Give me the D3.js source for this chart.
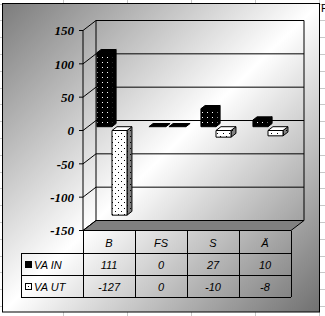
<!DOCTYPE html>
<html>
<head>
<meta charset="utf-8">
<script src="https://cdn.jsdelivr.net/npm/d3@7"></script>
<style>
  html, body { margin: 0; padding: 0; background: #fff; }
  svg { display: block; }
</style>
</head>
<body>
<script>
// Chart data
var categories = ["B", "FS", "S", "Ä"];
var seriesNames = ["VA IN", "VA UT"];
var vaIn = [111, 0, 27, 10];
var vaUt = [-127, 0, -10, -8];
var yTicks = [-150, -100, -50, 0, 50, 100, 150];

var width = 325,
    height = 316;

var svg = d3.select("body").append("svg")
    .attr("width", width)
    .attr("height", height);

var defs = svg.append("defs");

// background gradient of the chart area
var grad = defs.append("linearGradient")
    .attr("id", "bg")
    .attr("x1", 0).attr("y1", 0).attr("x2", 1).attr("y2", 1);
grad.append("stop").attr("offset", 0).attr("stop-color", "#7c7c7c");
grad.append("stop").attr("offset", 0.5).attr("stop-color", "#ffffff");
grad.append("stop").attr("offset", 1).attr("stop-color", "#707070");

// dotted fills
function dotPattern(id, bg, fg, size, dots) {
  var p = defs.append("pattern")
      .attr("id", id)
      .attr("patternUnits", "userSpaceOnUse")
      .attr("width", size).attr("height", size);
  p.append("rect").attr("width", size).attr("height", size).attr("fill", bg);
  dots.forEach(function(d) {
    p.append("rect").attr("x", d[0]).attr("y", d[1])
      .attr("width", 1).attr("height", 1).attr("fill", fg);
  });
}
dotPattern("dotsIn", "#000", "#fff", 5, [[2, 2]]);
dotPattern("dotsInSide", "#000", "#808080", 5, [[2, 2]]);
dotPattern("dotsUt", "#fff", "#000", 6, [[1, 1], [4, 4]]);
dotPattern("dotsUtSide", "#808080", "#000", 6, [[1, 1], [4, 4]]);

// spreadsheet grid behind the chart
var sheet = svg.append("g").attr("class", "sheet");
d3.range(63.5, width, 64).forEach(function(x) {
  sheet.append("line").attr("x1", x).attr("x2", x).attr("y1", 0).attr("y2", height)
    .attr("stroke", "#c8c8c8");
});
d3.range(3.5, height, 16.8).forEach(function(y) {
  sheet.append("line").attr("x1", 0).attr("x2", width).attr("y1", Math.round(y) + 0.5).attr("y2", Math.round(y) + 0.5)
    .attr("stroke", "#c8c8c8");
});
sheet.append("text").attr("x", 321).attr("y", 12)
  .style("font", "11px 'Liberation Sans', Arial, sans-serif")
  .text("F");

// chart area
svg.append("rect")
    .attr("x", 2.5).attr("y", 3.5)
    .attr("width", 317).attr("height", 308.5)
    .attr("fill", "url(#bg)")
    .attr("stroke", "#000");

// Scales
var y = d3.scaleLinear().domain([-150, 150]).range([230.5, 30.5]);
var x = d3.scaleBand().domain(categories).range([83, 291]);
var depthX = 13, depthY = -10;

function proj(px, v, z) {
  return [px + z * depthX, y(v) + z * depthY];
}
function poly(pts) {
  return "M" + pts.map(function(p) { return p[0] + "," + p[1]; }).join("L") + "Z";
}

var plot = svg.append("g").attr("class", "plot");

// floor
plot.append("path")
    .attr("d", poly([proj(x.range()[0], -150, 0), proj(x.range()[0], -150, 1),
                     proj(x.range()[1], -150, 1), proj(x.range()[1], -150, 0)]))
    .attr("fill", "#808080")
    .attr("stroke", "#000");

// back wall gridlines and wall edges
plot.selectAll(".grid")
    .data(yTicks)
  .enter().append("path")
    .attr("d", function(d) {
      return "M" + proj(x.range()[0] - 4, d, 0) + "L" + proj(x.range()[0], d, 0) +
             "L" + proj(x.range()[0], d, 1) + "L" + proj(x.range()[1], d, 1);
    })
    .attr("fill", "none")
    .attr("stroke", "#000");
plot.append("path")
    .attr("d", "M" + proj(x.range()[0], 150, 1) + "L" + proj(x.range()[0], -150, 1) +
               "M" + proj(x.range()[1], 150, 1) + "L" + proj(x.range()[1], -150, 1) +
               "M" + proj(x.range()[0], 150, 0) + "L" + proj(x.range()[0], -150, 0))
    .attr("fill", "none")
    .attr("stroke", "#000");

// tick labels
plot.selectAll(".tick")
    .data(yTicks)
  .enter().append("text")
    .attr("x", 74)
    .attr("y", function(d) { return y(d); })
    .attr("dy", "0.36em")
    .attr("text-anchor", "end")
    .style("font", "italic bold 13px 'Liberation Serif', 'Times New Roman', serif")
    .text(function(d) { return d; });

// bars
var barW = 15;
var series = [
  {name: seriesNames[0], values: vaIn, off: 9, z0: 0.38, z1: 0.7,
   front: "url(#dotsIn)", top: "#000", side: "url(#dotsInSide)"},
  {name: seriesNames[1], values: vaUt, off: 29, z0: 0, z1: 0.38,
   front: "url(#dotsUt)", top: "#fff", side: "url(#dotsUtSide)"}
];

categories.forEach(function(c, i) {
  series.forEach(function(s) {
    var v = s.values[i];
    var x0 = x(c) + s.off, x1 = x0 + barW;
    var hi = Math.max(v, 0), lo = Math.min(v, 0);
    var g = plot.append("g").attr("class", "bar");
    if (v !== 0) {
      g.append("path")
        .attr("d", poly([proj(x1, hi, s.z0), proj(x1, hi, s.z1), proj(x1, lo, s.z1), proj(x1, lo, s.z0)]))
        .attr("fill", s.side).attr("stroke", "#000");
      g.append("path")
        .attr("d", poly([proj(x0, hi, s.z0), proj(x1, hi, s.z0), proj(x1, lo, s.z0), proj(x0, lo, s.z0)]))
        .attr("fill", s.front).attr("stroke", "#000");
      g.append("path")
        .attr("d", poly([proj(x0, hi, s.z0), proj(x1, hi, s.z0), proj(x1, hi, s.z1), proj(x0, hi, s.z1)]))
        .attr("fill", s.top).attr("stroke", "#000");
    } else {
      // flat zero bar, drawn as a black sliver on the back row
      var zb = series[0];
      g.append("path")
        .attr("d", poly([proj(x0, 0, zb.z0), proj(x1 + 2, 0, zb.z0), proj(x1 + 2, 0, zb.z1), proj(x0, 0, zb.z1)]))
        .attr("fill", "#000").attr("stroke", "#000");
    }
  });
});

// data table
var table = svg.append("g").attr("class", "table");
var rowY = [231, 253, 275, 297];
var left = 21;
var cellFont = "italic 11px 'Liberation Sans', Arial, sans-serif";

table.selectAll(".hline")
    .data(rowY.slice(1))
  .enter().append("line")
    .attr("x1", left).attr("x2", x.range()[1])
    .attr("y1", function(d) { return d + 0.5; }).attr("y2", function(d) { return d + 0.5; })
    .attr("stroke", "#000");
table.append("line")
    .attr("x1", left + 0.5).attr("x2", left + 0.5)
    .attr("y1", rowY[1]).attr("y2", rowY[3])
    .attr("stroke", "#000");
table.selectAll(".vline")
    .data(categories.map(function(c) { return x(c); }).concat([x.range()[1]]))
  .enter().append("line")
    .attr("x1", function(d) { return Math.round(d) + 0.5; })
    .attr("x2", function(d) { return Math.round(d) + 0.5; })
    .attr("y1", rowY[0]).attr("y2", rowY[3])
    .attr("stroke", "#000");

table.selectAll(".head")
    .data(categories)
  .enter().append("text")
    .attr("x", function(d) { return x(d) + x.bandwidth() / 2; })
    .attr("y", (rowY[0] + rowY[1]) / 2 + 1)
    .attr("dy", "0.36em")
    .attr("text-anchor", "middle")
    .style("font", cellFont)
    .text(function(d) { return d; });

series.forEach(function(s, r) {
  var cy = (rowY[r + 1] + rowY[r + 2]) / 2 + 1;
  // legend key
  table.append("rect")
    .attr("x", 25.5).attr("y", cy - 3.5)
    .attr("width", 6).attr("height", 6)
    .attr("fill", r === 0 ? "#000" : "#fff")
    .attr("stroke", "#000");
  if (r === 1) {
    table.append("rect").attr("x", 28).attr("y", cy - 1)
      .attr("width", 1).attr("height", 1).attr("fill", "#000");
  }
  table.append("text")
    .attr("x", 34).attr("y", cy)
    .attr("dy", "0.36em")
    .style("font", cellFont)
    .text(s.name);
  table.selectAll(".val" + r)
      .data(s.values)
    .enter().append("text")
      .attr("x", function(d, i) { return x(categories[i]) + x.bandwidth() / 2; })
      .attr("y", cy)
      .attr("dy", "0.36em")
      .attr("text-anchor", "middle")
      .style("font", cellFont)
      .text(function(d) { return d; });
});
</script>
</body>
</html>
